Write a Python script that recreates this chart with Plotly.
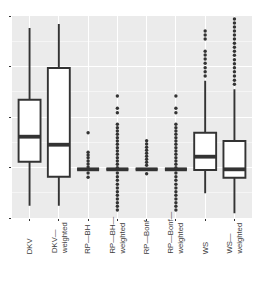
import plotly.graph_objects as go

# ---- data ----
categories = ["DKV", "DKV-weighted", "RP-BH", "RP-BH-weighted",
              "RP-Bonf", "RP-Bonf-weighted", "WS", "WS-weighted"]
tick_labels = ["DKV", "DKV—<br>weighted", "RP—BH", "RP—BH—<br>weighted",
               "RP—Bonf", "RP—Bonf—<br>weighted", "WS", "WS—<br>weighted"]

q1 = [1.115, 0.818, 0.964, 0.964, 0.964, 0.964, 0.950, 0.798]
median = [1.610, 1.451, 0.964, 0.964, 0.964, 0.964, 1.214, 0.964]
q3 = [2.343, 2.970, 0.964, 0.964, 0.964, 0.964, 1.689, 1.525]
lower_whisker = [0.244, 0.244, 0.964, 0.964, 0.964, 0.964, 0.489, 0.093]
upper_whisker = [3.762, 3.842, 0.964, 0.964, 0.964, 0.964, 2.719, 2.549]

outliers_rp_bh = [1.689, 1.301, 1.248, 1.194, 1.129, 1.069, 1.010, 0.891, 0.806]
outliers_rp_bh_w = [2.416, 2.172, 2.085, 1.855, 1.788, 1.723, 1.657, 1.590,
                    1.525, 1.459, 1.392, 1.327, 1.261, 1.194, 1.129, 1.063,
                    0.996, 0.891, 0.818, 0.747, 0.667, 0.594, 0.521, 0.450,
                    0.376, 0.303, 0.232, 0.158]
outliers_rp_bonf = [1.531, 1.465, 1.400, 1.341, 1.281, 1.222, 1.162, 1.103,
                    1.044, 0.877]
outliers_rp_bonf_w = [2.416, 2.172, 2.085, 1.855, 1.788, 1.723, 1.657, 1.590,
                      1.525, 1.459, 1.392, 1.327, 1.261, 1.194, 1.129, 1.063,
                      0.996, 0.891, 0.818, 0.747, 0.667, 0.594, 0.521, 0.450,
                      0.376, 0.303, 0.232, 0.158]
outliers_ws = [3.703, 3.624, 3.545, 3.301, 3.228, 3.149, 3.063, 2.976,
               2.897, 2.812]
outliers_ws_w = [3.941, 3.861, 3.782, 3.703, 3.624, 3.545, 3.459, 3.380,
                 3.301, 3.222, 3.135, 3.055, 2.976, 2.897, 2.812, 2.727, 2.648]

outliers = {
    "RP-BH": outliers_rp_bh,
    "RP-BH-weighted": outliers_rp_bh_w,
    "RP-Bonf": outliers_rp_bonf,
    "RP-Bonf-weighted": outliers_rp_bonf_w,
    "WS": outliers_ws,
    "WS-weighted": outliers_ws_w,
}

y_ticks = [0, 1, 2, 3, 4]

# ---- styling ----
DARK = "#333333"
BOX_W = 0.75
pos = list(range(len(categories)))

fig = go.Figure()

fig.add_trace(go.Box(
    x=pos, q1=q1, median=median, q3=q3,
    lowerfence=lower_whisker, upperfence=upper_whisker,
    width=BOX_W, whiskerwidth=0, boxpoints=False,
    fillcolor="white", line=dict(color=DARK, width=1.9),
    hoverinfo="skip",
))

# thicker median lines (ggplot style)
mx, my = [], []
for p, m in zip(pos, median):
    mx += [p - BOX_W / 2, p + BOX_W / 2, None]
    my += [m, m, None]
fig.add_trace(go.Scatter(x=mx, y=my, mode="lines",
                         line=dict(color=DARK, width=3.8), hoverinfo="skip"))

# outlier points
ox, oy = [], []
for cat, vals in outliers.items():
    p = categories.index(cat)
    ox += [p] * len(vals)
    oy += vals
fig.add_trace(go.Scatter(x=ox, y=oy, mode="markers",
                         marker=dict(color=DARK, size=3.4, line=dict(width=0)),
                         hoverinfo="skip"))

# category labels: rotated, bottom-aligned like ggplot hjust=0
for p, lab in zip(pos, tick_labels):
    fig.add_annotation(x=p, xref="x", y=-0.184, yref="paper",
                       text=lab, textangle=-90, showarrow=False,
                       xanchor="center", yanchor="bottom", align="left",
                       borderpad=0,
                       font=dict(family="Liberation Sans, Arial, sans-serif",
                                 size=7.7, color="#3C3C3C"))

fig.update_layout(
    width=255, height=294,
    margin=dict(l=12, r=3, t=16, b=76),
    paper_bgcolor="white", plot_bgcolor="#EBEBEB",
    showlegend=False, hovermode=False,
    xaxis=dict(range=[-0.6, len(categories) - 0.4], tickvals=pos,
               showticklabels=False, ticks="outside", ticklen=2,
               tickcolor=DARK, tickwidth=1, showgrid=True,
               gridcolor="white", gridwidth=1, zeroline=False,
               showline=False),
    yaxis=dict(range=[0, 4], tickvals=y_ticks, showticklabels=False,
               ticks="outside", ticklen=2, tickcolor=DARK, tickwidth=1,
               showgrid=True, gridcolor="white", gridwidth=1,
               zeroline=False, showline=False,
               minor=dict(dtick=0.5, tick0=0, showgrid=True,
                          gridcolor="#F5F5F5", gridwidth=0.6, ticks="")),
)

fig.write_html("out.html", config={"displayModeBar": False},
               post_script="document.body.style.margin='0px';"
                           "document.body.style.overflow='hidden';")
